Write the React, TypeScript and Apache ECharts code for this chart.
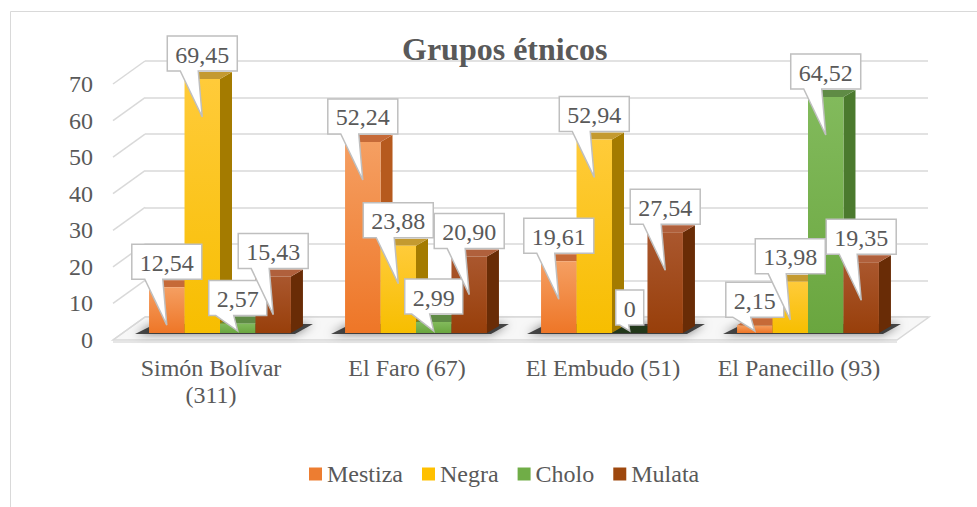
import React, { useEffect, useRef } from 'react';
import * as echarts from 'echarts';

// ---- data ----
const categories = ['Simón Bolívar\n(311)', 'El Faro (67)', 'El Embudo (51)', 'El Panecillo (93)'];
const seriesNames = ['Mestiza', 'Negra', 'Cholo', 'Mulata'];
const mestiza = [12.54, 52.24, 19.61, 2.15];
const negra = [69.45, 23.88, 52.94, 13.98];
const cholo = [2.57, 2.99, 0, 64.52];
const mulata = [15.43, 20.9, 27.54, 19.35];
const valueTicks = [0, 10, 20, 30, 40, 50, 60, 70];
const allSeries = [mestiza, negra, cholo, mulata];

// ---- styles ----
const FONT = 'Times New Roman, Liberation Serif, DejaVu Serif, serif';
const TXT = '#595959';
const GRID = '#D9D9D9';
const PAL = [
  { base: '#ED7D31', front0: '#F59F62', front1: '#EE7627', side: '#B65A1E', top: '#C66A38', zero: '#8A4A20' },
  { base: '#FFC000', front0: '#FFCB3A', front1: '#F7BE00', side: '#A47B00', top: '#C49A30', zero: '#7A5C00' },
  { base: '#70AD47', front0: '#82BA5C', front1: '#6AA63F', side: '#4B7A2E', top: '#5F8B45', zero: '#22381A' },
  { base: '#9E480E', front0: '#AA572E', front1: '#983F0A', side: '#692C06', top: '#B0603C', zero: '#4A1E04' },
];
const BAR_FRAC = 0.181;
const DX = 12;
const DY = -7;
const WALL_DX = 32;
const WALL_DY = -23;

const fmt = (v: number) => (v === 0 ? '0' : v.toFixed(2).replace('.', ','));
const textWidth = (s: string) => {
  let w = 0;
  for (const ch of s) w += ch === ',' ? 0.25 : 0.5;
  return w * 24;
};

export default function App() {
  const ref = useRef<HTMLDivElement>(null);
  useEffect(() => {
    if (!ref.current) return;
    const chart = echarts.init(ref.current, undefined, { renderer: 'svg' });

    const barSeries = allSeries.map((vals, si) => ({
      type: 'custom',
      name: seriesNames[si],
      xAxisIndex: 2,
      yAxisIndex: 2,
      z: 3,
      clip: false,
      itemStyle: { color: PAL[si].base },
      encode: { x: 0, y: 1 },
      data: vals.map((v, ci) => [ci, v]),
      renderItem: (params: any, api: any) => {
        const cat = api.value(0);
        const v = api.value(1);
        const c = api.coord([cat, v]);
        const b = api.coord([cat, 0]);
        const band = api.size([1, 0])[0];
        const bw = band * BAR_FRAC;
        const x0 = c[0] - 2 * bw + si * bw;
        const top = c[1];
        const base = b[1];
        const p = PAL[si];
        const children: any[] = [];
        children.push({
          type: 'polygon',
          shape: { points: [[x0 + bw, top], [x0 + bw + DX, top + DY], [x0 + bw + DX, base + DY], [x0 + bw, base]] },
          style: { fill: p.side },
        });
        children.push({
          type: 'polygon',
          shape: { points: [[x0, top], [x0 + DX, top + DY], [x0 + bw + DX, top + DY], [x0 + bw, top]] },
          style: { fill: v === 0 ? p.zero : p.top },
        });
        if (base - top > 0.5) {
          children.push({
            type: 'rect',
            shape: { x: x0, y: top, width: bw, height: base - top },
            style: {
              fill: new echarts.graphic.LinearGradient(0, 0, 0, 1, [
                { offset: 0, color: p.front0 },
                { offset: 1, color: p.front1 },
              ]),
            },
          });
        }
        return { type: 'group', children };
      },
    }));

    const calloutData: any[] = [];
    allSeries.forEach((vals, si) => vals.forEach((v, ci) => calloutData.push([ci, si, v])));

    const calloutSeries = {
      type: 'custom',
      name: 'callouts',
      xAxisIndex: 2,
      yAxisIndex: 2,
      z: 6,
      clip: false,
      encode: { x: 0, y: 2 },
      data: calloutData,
      renderItem: (params: any, api: any) => {
        const cat = api.value(0);
        const si = api.value(1);
        const v = api.value(2);
        const c = api.coord([cat, v]);
        const b = api.coord([cat, 0]);
        const band = api.size([1, 0])[0];
        const bw = band * BAR_FRAC;
        const cx = c[0] - 2 * bw + si * bw + bw / 2;
        const top = c[1];
        const base = b[1];
        const label = fmt(v);
        const w = textWidth(label) + 16;
        const h = 35;
        const bottom = top - 8;
        const bx0 = cx - w / 2;
        const bx1 = cx + w / 2;
        const by0 = bottom - h;
        const tl = Math.max(bx0 + 4, cx - 22);
        const tr = Math.min(tl + 18, cx - 1);
        const tipY = Math.min(top + 38, base - 2);
        return {
          type: 'group',
          children: [
            {
              type: 'polygon',
              shape: {
                points: [[bx0, by0], [bx1, by0], [bx1, bottom], [tr, bottom], [cx, tipY], [tl, bottom], [bx0, bottom]],
              },
              style: { fill: '#FFFFFF', stroke: '#BFBFBF', lineWidth: 1.5 },
            },
            {
              type: 'text',
              style: {
                text: label,
                x: cx,
                y: by0 + h / 2 + 1,
                align: 'center',
                verticalAlign: 'middle',
                fontSize: 24,
                fontFamily: FONT,
                fill: TXT,
              },
            },
          ],
        };
      },
    };

    const shadowSeries = {
      type: 'custom',
      name: 'shadow',
      xAxisIndex: 2,
      yAxisIndex: 2,
      z: 2,
      clip: false,
      encode: { x: 0, y: 1 },
      data: categories.map((_, ci) => [ci, 0]),
      renderItem: (params: any, api: any) => {
        const cat = api.value(0);
        const b = api.coord([cat, 0]);
        const band = api.size([1, 0])[0];
        const bw = band * BAR_FRAC;
        const left = b[0] - 2 * bw;
        const right = b[0] + 2 * bw;
        const base = b[1];
        return {
          type: 'polygon',
          shape: {
            points: [[left - 14, base + 1], [right + 4, base + 1], [right + DX + 10, base + DY - 2], [left + DX - 6, base + DY - 2]],
          },
          style: { fill: 'rgba(40,40,40,0.85)', shadowBlur: 10, shadowColor: 'rgba(0,0,0,0.6)' },
        };
      },
    };

    const decorSeries = {
      type: 'custom',
      name: 'decor',
      xAxisIndex: 0,
      yAxisIndex: 0,
      z: 1,
      clip: false,
      encode: { x: 0, y: 1 },
      data: valueTicks.map((v) => [0, v]),
      renderItem: (params: any, api: any) => {
        const cs = params.coordSys;
        const v = api.value(1);
        const y = api.coord([0, v])[1];
        const children: any[] = [
          {
            type: 'line',
            shape: { x1: cs.x, y1: y, x2: cs.x + WALL_DX, y2: y + WALL_DY },
            style: { stroke: GRID, lineWidth: 1.5 },
          },
        ];
        if (v === 0) {
          children.unshift({
            type: 'polygon',
            shape: {
              points: [[cs.x, y], [cs.x + cs.width, y], [cs.x + cs.width + WALL_DX, y + WALL_DY], [cs.x + WALL_DX, y + WALL_DY]],
            },
            style: { fill: '#F7F7F7', stroke: GRID, lineWidth: 1.5 },
          });
          children.push({
            type: 'line',
            shape: { x1: cs.x, y1: y + 2, x2: cs.x + cs.width, y2: y + 2 },
            style: { stroke: '#E6E6E6', lineWidth: 2 },
          });
        }
        return { type: 'group', children };
      },
    };

    const option: any = {
      animation: false,
      backgroundColor: '#FFFFFF',
      textStyle: { fontFamily: FONT },
      title: {
        text: 'Grupos étnicos',
        left: 397,
        top: 28,
        textStyle: { fontFamily: FONT, fontSize: 32, fontWeight: 'bold', color: TXT },
      },
      legend: {
        data: seriesNames,
        left: 304,
        top: 457,
        icon: 'rect',
        itemWidth: 13,
        itemHeight: 13,
        itemGap: 19,
        textStyle: { fontFamily: FONT, fontSize: 24, color: TXT },
      },
      graphic: [
        {
          type: 'rect',
          shape: { x: 10.5, y: 11.5, width: 1000, height: 600 },
          style: { fill: 'none', stroke: GRID, lineWidth: 1 },
          silent: true,
        },
      ],
      grid: [
        { left: 113, right: 80, top: 84, bottom: 167 },
        { left: 145, right: 49, top: 61, bottom: 190 },
        { left: 122, right: 71, top: 77, bottom: 174 },
      ],
      xAxis: [
        {
          gridIndex: 0,
          type: 'category',
          data: categories,
          axisLine: { show: false },
          axisTick: { show: false },
          axisLabel: { fontFamily: FONT, fontSize: 24, color: TXT, lineHeight: 27, margin: 14, interval: 0 },
        },
        { gridIndex: 1, type: 'category', data: categories, show: false },
        { gridIndex: 2, type: 'category', data: categories, show: false },
      ],
      yAxis: [
        {
          gridIndex: 0,
          type: 'value',
          min: 0,
          max: 70,
          interval: 10,
          axisLine: { show: false },
          axisTick: { show: false },
          splitLine: { show: false },
          axisLabel: { fontFamily: FONT, fontSize: 24, color: TXT, margin: 20 },
        },
        {
          gridIndex: 1,
          type: 'value',
          min: 0,
          max: 70,
          interval: 10,
          axisLine: { show: false },
          axisTick: { show: false },
          axisLabel: { show: false },
          splitLine: { show: true, lineStyle: { color: GRID, width: 1.5 } },
        },
        {
          gridIndex: 2,
          type: 'value',
          min: 0,
          max: 70,
          interval: 10,
          show: false,
          splitLine: { show: false },
        },
      ],
      series: [decorSeries, shadowSeries, ...barSeries, calloutSeries],
    };

    chart.setOption(option);
    return () => chart.dispose();
  }, []);

  return (
    <div
      ref={ref}
      style={{ position: 'fixed', left: 0, top: 0, width: 977, height: 507, background: '#fff' }}
    />
  );
}
